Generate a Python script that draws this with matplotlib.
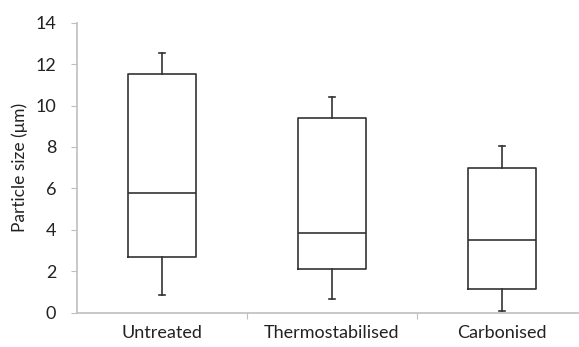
import matplotlib
matplotlib.use("Agg")
import matplotlib.pyplot as plt

categories = ["Untreated", "Thermostabilised", "Carbonised"]
whisker_low = [0.85, 0.66, 0.08]
q1 = [2.67, 2.12, 1.14]
median = [5.77, 3.85, 3.52]
q3 = [11.53, 9.39, 7.0]
whisker_high = [12.55, 10.4, 8.03]
yticks = [0, 2, 4, 6, 8, 10, 12, 14]

plt.rcParams['font.family'] = ['Lato', 'DejaVu Sans']

fig = plt.figure(figsize=(5.79, 3.47), dpi=100)
ax = fig.add_axes([0.133, 0.0988, 0.867, 0.8358])

stats = []
for i, c in enumerate(categories):
    stats.append(dict(label=c, whislo=whisker_low[i], q1=q1[i], med=median[i],
                      q3=q3[i], whishi=whisker_high[i], fliers=[]))

lc = '#333333'
ax.bxp(stats, positions=range(len(categories)), widths=0.395, showfliers=False,
       capwidths=0.04,
       boxprops=dict(color=lc, linewidth=1.2),
       medianprops=dict(color=lc, linewidth=1.2),
       whiskerprops=dict(color=lc, linewidth=1.2),
       capprops=dict(color=lc, linewidth=1.2))

ax.set_xlim(-0.5, 2.453)
ax.set_ylim(0, 14)
ax.set_yticks(yticks)
ax.set_xticks([0.5, 1.5])
ax.set_xticklabels([])
ax.tick_params(axis='x', which='major', length=4, color='#BFBFBF', direction='out')
ax.set_xticks(range(len(categories)), minor=True)
ax.set_xticklabels(categories, minor=True)
ax.tick_params(axis='x', which='minor', length=0, pad=9, labelsize=13, labelcolor='#222222')
ax.tick_params(axis='y', length=4, color='#BFBFBF', labelsize=13, labelcolor='#222222', pad=11)

for s in ['top', 'right']:
    ax.spines[s].set_visible(False)
for s in ['left', 'bottom']:
    ax.spines[s].set_color('#BFBFBF')
    ax.spines[s].set_linewidth(1.2)

ax.set_ylabel('Particle size (μm)', fontsize=12.5, color='#222222', labelpad=5)

fig.savefig('out.png', dpi=100)
